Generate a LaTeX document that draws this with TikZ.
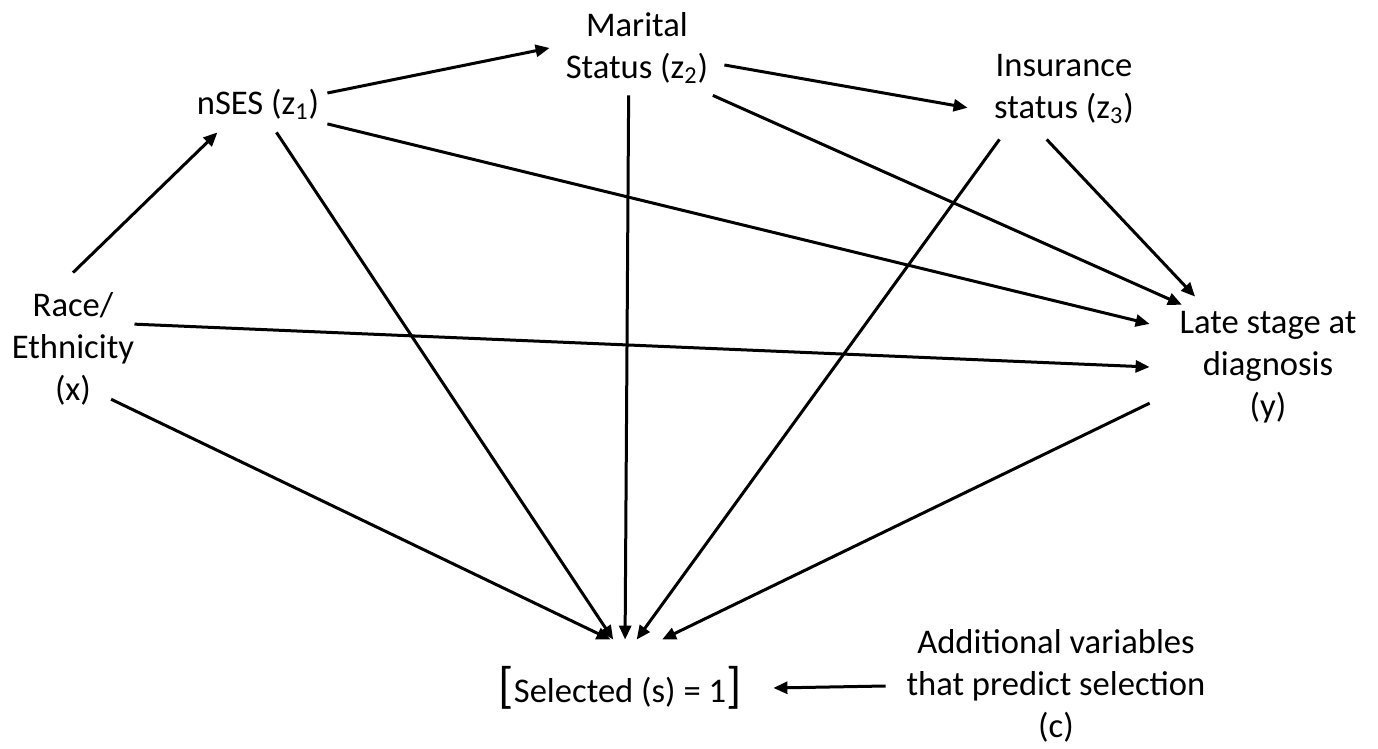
\documentclass[tikz,border=0pt]{standalone}
\usepackage{fontspec}
\setmainfont{Carlito}
\usetikzlibrary{arrows.meta}
\newcommand \zsub[1] {\textsubscript{#1}}
\newcommand \colch[1] {{\fontsize{25}{25}\selectfont#1}}

\begin{document}
\begin{tikzpicture}[x=0.5pt, y=-0.5pt,
	var/.style={align=center, inner sep=0pt, font=\fontsize{17.3}{21}\selectfont},
	seta/.style={-{Triangle[length=7pt, width=6pt]}, line width=1.5pt}]
	\useasboundingbox (0,0) rectangle (1378,749);
	% Variaveis
	\node [var, minimum width=60pt,  minimum height=76pt] (x)  at (73,349)   {Race/\\Ethnicity\\(x)};
	\node [var, minimum width=69pt,  minimum height=28pt] (z1) at (258,104)  {nSES (z\zsub{1})};
	\node [var, minimum width=87pt,  minimum height=47pt] (z2) at (637,48)   {Marital\\Status (z\zsub{2})};
	\node [var, minimum width=96pt,  minimum height=50pt] (z3) at (1064,89)  {Insurance\\status (z\zsub{3})};
	\node [var, minimum width=118pt, minimum height=70pt] (y)  at (1268,367) {Late stage at\\diagnosis\\(y)};
	\node [var, minimum width=153pt, minimum height=48pt] (s)  at (620,688)  {\colch{[}Selected (s) = 1\colch{]}};
	\node [var, minimum width=170pt, minimum height=60pt] (c)  at (1056,686) {Additional variables\\that predict selection\\(c)};
	% Setas
	\draw [seta] (x.north) -- (z1.-145);
	\draw [seta] (z1.9) -- (z2.180);
	\draw [seta] (z2.-11.7) -- (z3.-169.4);
	\draw [seta] (z1.-16) -- (y.160.4);
	\draw [seta, shorten >=-10pt] (z2.-32.8) -- (y.146.2);
	\draw [seta] (z3.-109) -- (y.136.5);
	\draw [seta] (x.22.7) -- (y.west);
	% Selecao
	\draw [seta, shorten <=-13pt] (x.-45) -- (s.101.8);
	\draw [seta] (z1.-57) -- (s.98.7);
	\draw [seta] (z2.-100.8) -- (s.84);
	\draw [seta] (z3.-142.5) -- (s.71.6);
	\draw [seta] (y.-163.8) -- (s.49.8);
	\draw [seta] (c.west) -- (s.east);
\end{tikzpicture}
\end{document}
